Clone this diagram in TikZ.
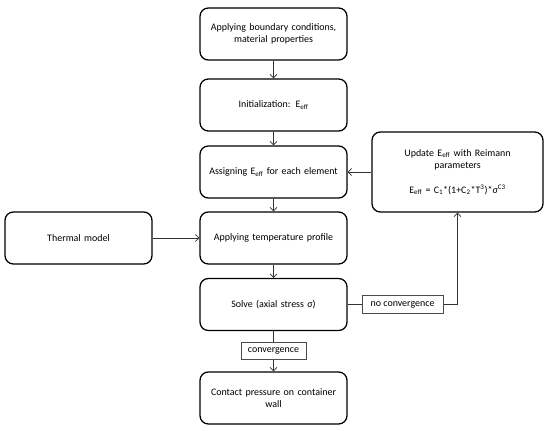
\documentclass[tikz,border=0pt]{standalone}
\usepackage{fontspec}
\setmainfont{Carlito}
\usetikzlibrary{arrows.meta}
\begin{document}
\begin{tikzpicture}[x=0.03cm,y=-0.03cm,
  box/.style={draw=black,line width=1.1pt,rounded corners=0.25cm,align=center,
    minimum width=4.41cm,minimum height=1.56cm,text width=4.1cm,font=\fontsize{8.5}{10.5}\selectfont},
  tag/.style={draw=black!70,line width=0.5pt,fill=white,inner sep=2pt,font=\fontsize{8.5}{10.5}\selectfont},
  link/.style={draw=black!80,line width=0.6pt,-{Straight Barb[length=3pt,width=6pt]}}]
\useasboundingbox (0,0) rectangle (550,431);

\node[box] (bc) at (273.5,34) {Applying boundary conditions,\\ material properties};
\node[box] (init) at (273.5,105) {Initialization: E\textsubscript{eff}};
\node[box] (assign) at (273.5,172) {Assigning E\textsubscript{eff} for each element};
\node[box] (temp) at (273.5,238) {Applying temperature profile};
\node[box] (solve) at (273.5,304.5) {Solve (axial stress σ)};
\node[box] (wall) at (273.5,398) {Contact pressure on container\\ wall};
\node[box] (thermal) at (78.5,238) {Thermal model};
\node[box,minimum width=5.13cm,minimum height=2.4cm,text width=4.6cm] (update) at (457.5,172)
  {Update E\textsubscript{eff} with Reimann\\ parameters\\[2.6ex]
   E\textsubscript{eff} = C\textsubscript{1}*(1+C\textsubscript{2}*T\textsuperscript{3})*σ\textsuperscript{C3}};

\draw[link] (bc) -- (init);
\draw[link] (init) -- (assign);
\draw[link] (assign) -- (temp);
\draw[link] (temp) -- (solve);
\draw[link] (thermal) -- (temp);
\draw[link] (solve) -- node[tag,minimum width=1.95cm,minimum height=0.51cm] (conv) {convergence} (wall);
\coordinate (corner) at (update.south |- solve.east);
\draw[link] (solve.east) -- node[tag,minimum width=2.43cm,minimum height=0.54cm] (noconv) {no convergence} (corner) -- (update.south);
\draw[link] (update) -- (assign);
\end{tikzpicture}
\end{document}
